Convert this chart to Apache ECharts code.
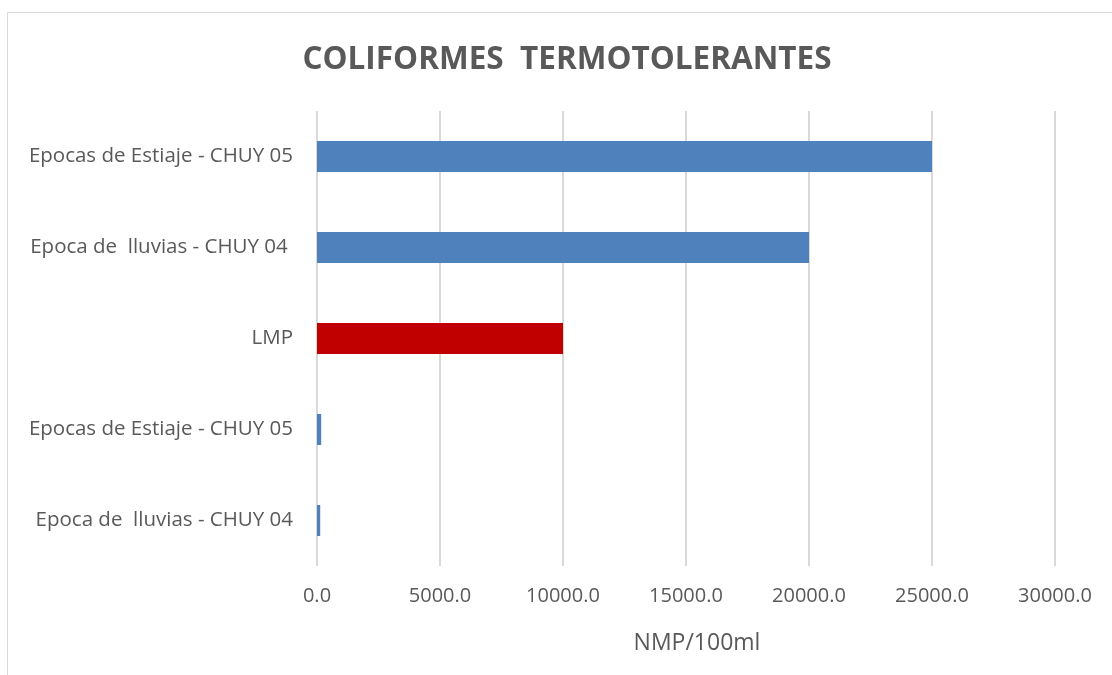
<!DOCTYPE html>
<html>
<head>
<meta charset="utf-8">
<script src="https://cdn.jsdelivr.net/npm/echarts@6/dist/echarts.min.js"></script>
<style>
  html, body { margin: 0; padding: 0; background: #fff; }
  #chart { width: 1112px; height: 675px; }
</style>
</head>
<body>
<div id="chart"></div>
<script>
// categories bottom -> top (category axis on y runs upward)
const categories = [
  'Epoca de  lluvias - CHUY 04',
  'Epocas de Estiaje - CHUY 05',
  'LMP',
  'Epoca de  lluvias - CHUY 04 ',
  'Epocas de Estiaje - CHUY 05'
]
const values = [130, 170, 10000, 20000, 25000]
const barColors = ['#4F81BD', '#4F81BD', '#C00000', '#4F81BD', '#4F81BD']
const xTicks = [0, 5000, 10000, 15000, 20000, 25000, 30000]

const textColor = '#595959'
const fontFamily = '"Open Sans", "Noto Sans", sans-serif'

const chart = echarts.init(document.getElementById('chart'))

const option = {
  animation: false,
  textStyle: { fontFamily },
  title: {
    text: 'COLIFORMES  TERMOTOLERANTES',
    left: 562,
    top: 39,
    textAlign: 'center',
    textStyle: { fontSize: 31.5, fontWeight: 'bold', color: textColor, fontFamily }
  },
  graphic: [
    {
      type: 'rect',
      shape: { x: 7.5, y: 12.5, width: 1120, height: 680 },
      style: { fill: 'none', stroke: '#D9D9D9', lineWidth: 1 },
      silent: true
    }
  ],
  grid: { left: 317, right: 57, top: 111, bottom: 109, containLabel: false },
  xAxis: {
    type: 'value',
    min: xTicks[0],
    max: xTicks[xTicks.length - 1],
    interval: 5000,
    name: 'NMP/100ml',
    nameLocation: 'middle',
    nameGap: 66,
    nameTextStyle: { fontSize: 23, color: textColor, fontFamily, padding: [0, 0, 0, 22] },
    axisLine: { show: false },
    axisTick: { show: false },
    axisLabel: {
      fontSize: 20,
      color: textColor,
      margin: 20,
      formatter: (v) => v.toFixed(1)
    },
    splitLine: { lineStyle: { color: '#D9D9D9', width: 2 } }
  },
  yAxis: {
    type: 'category',
    data: categories,
    axisLine: { show: false },
    axisTick: { show: false },
    axisLabel: { fontSize: 20.5, color: textColor, margin: 24 },
    splitLine: { show: false }
  },
  series: [
    {
      type: 'bar',
      data: values.map((v, i) => ({ value: v, itemStyle: { color: barColors[i] } })),
      barWidth: 31
    }
  ]
}

chart.setOption(option)
</script>
</body>
</html>
